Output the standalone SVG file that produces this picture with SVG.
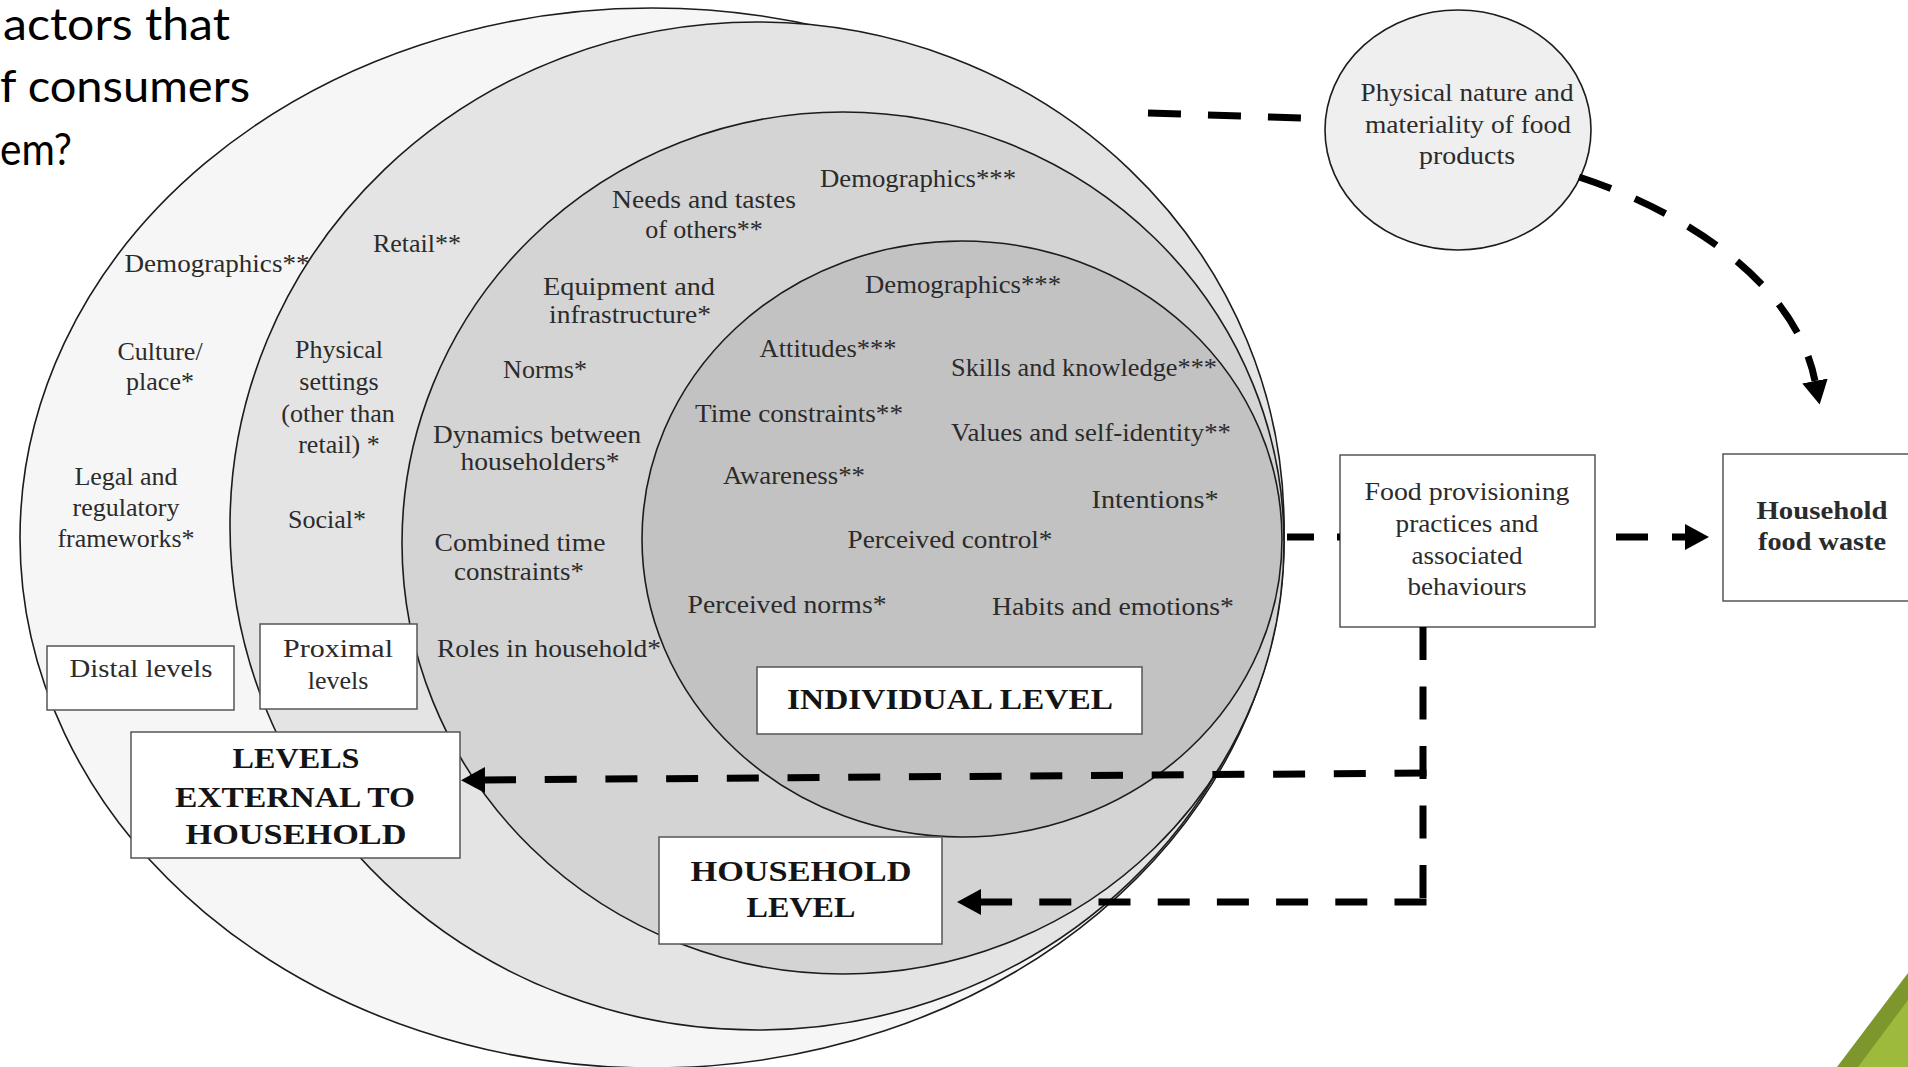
<svg xmlns="http://www.w3.org/2000/svg" width="1908" height="1067" viewBox="0 0 1908 1067">
  <defs>
    <style>
      .ring { stroke: #1c1c1c; stroke-width: 1.6; }
      .lbl { font-family: "Liberation Serif", "Times New Roman", serif; font-size: 26px; fill: #2b2b2b; text-anchor: middle; }
      .cap { font-family: "Liberation Serif", "Times New Roman", serif; font-size: 29px; font-weight: bold; fill: #141414; text-anchor: middle; }
      .box { fill: #ffffff; stroke: #555555; stroke-width: 1.5; }
      .dash { fill: none; stroke: #000000; stroke-width: 7; }
      .title { font-family: Lato, "Open Sans", sans-serif; font-size: 45px; fill: #000000; }
    </style>
    <marker id="ah" viewBox="0 0 10 10" preserveAspectRatio="none" refX="0" refY="5" markerWidth="24" markerHeight="26" markerUnits="userSpaceOnUse" orient="auto">
      <path d="M0,0 L10,5 L0,10 z" fill="#000000"/>
    </marker>
  </defs>

  <rect x="0" y="0" width="1908" height="1067" fill="#ffffff"/>

  <g id="title">
    <text class="title" x="3" y="40" textLength="227" lengthAdjust="spacingAndGlyphs">actors that</text>
    <text class="title" x="0" y="102" textLength="250" lengthAdjust="spacingAndGlyphs">f consumers</text>
    <text class="title" x="0" y="165" textLength="72" lengthAdjust="spacingAndGlyphs">em?</text>
  </g>

  <g id="ring-distal">
    <ellipse class="ring" cx="652" cy="538" rx="632" ry="530" fill="#f6f6f6"/>
    <text class="lbl" x="217" y="272" textLength="185" lengthAdjust="spacingAndGlyphs">Demographics**</text>
    <text class="lbl" x="160" y="360">Culture/</text>
    <text class="lbl" x="160" y="390">place*</text>
    <text class="lbl" x="126" y="485">Legal and</text>
    <text class="lbl" x="126" y="516">regulatory</text>
    <text class="lbl" x="126" y="547">frameworks*</text>
  </g>

  <g id="ring-proximal">
    <ellipse class="ring" cx="757" cy="526" rx="527" ry="504" fill="#e4e4e4"/>
    <text class="lbl" x="417" y="252">Retail**</text>
    <text class="lbl" x="339" y="358">Physical</text>
    <text class="lbl" x="339" y="390">settings</text>
    <text class="lbl" x="338" y="422">(other than</text>
    <text class="lbl" x="339" y="453">retail) *</text>
    <text class="lbl" x="327" y="528">Social*</text>
  </g>

  <g id="ring-household">
    <ellipse class="ring" cx="843" cy="543" rx="441" ry="431" fill="#d4d4d4"/>
    <text class="lbl" x="918" y="187" textLength="196" lengthAdjust="spacingAndGlyphs">Demographics***</text>
    <text class="lbl" x="704" y="208" textLength="184" lengthAdjust="spacingAndGlyphs">Needs and tastes</text>
    <text class="lbl" x="704" y="238">of others**</text>
    <text class="lbl" x="629" y="295" textLength="172" lengthAdjust="spacingAndGlyphs">Equipment and</text>
    <text class="lbl" x="630" y="323" textLength="162" lengthAdjust="spacingAndGlyphs">infrastructure*</text>
    <text class="lbl" x="545" y="378">Norms*</text>
    <text class="lbl" x="537" y="443" textLength="208" lengthAdjust="spacingAndGlyphs">Dynamics between</text>
    <text class="lbl" x="540" y="470" textLength="159" lengthAdjust="spacingAndGlyphs">householders*</text>
    <text class="lbl" x="520" y="551" textLength="171" lengthAdjust="spacingAndGlyphs">Combined time</text>
    <text class="lbl" x="519" y="580" textLength="130" lengthAdjust="spacingAndGlyphs">constraints*</text>
    <text class="lbl" x="549" y="657" textLength="224" lengthAdjust="spacingAndGlyphs">Roles in household*</text>
  </g>

  <g id="ring-individual">
    <ellipse class="ring" cx="962" cy="539" rx="320" ry="298" fill="#c2c2c2"/>
    <text class="lbl" x="963" y="293" textLength="196" lengthAdjust="spacingAndGlyphs">Demographics***</text>
    <text class="lbl" x="828" y="357" textLength="137" lengthAdjust="spacingAndGlyphs">Attitudes***</text>
    <text class="lbl" x="1084" y="376" textLength="266" lengthAdjust="spacingAndGlyphs">Skills and knowledge***</text>
    <text class="lbl" x="799" y="422" textLength="208" lengthAdjust="spacingAndGlyphs">Time constraints**</text>
    <text class="lbl" x="1091" y="441" textLength="280" lengthAdjust="spacingAndGlyphs">Values and self-identity**</text>
    <text class="lbl" x="794" y="484" textLength="142" lengthAdjust="spacingAndGlyphs">Awareness**</text>
    <text class="lbl" x="1155" y="508" textLength="127" lengthAdjust="spacingAndGlyphs">Intentions*</text>
    <text class="lbl" x="950" y="548" textLength="205" lengthAdjust="spacingAndGlyphs">Perceived control*</text>
    <text class="lbl" x="787" y="613" textLength="199" lengthAdjust="spacingAndGlyphs">Perceived norms*</text>
    <text class="lbl" x="1113" y="615" textLength="242" lengthAdjust="spacingAndGlyphs">Habits and emotions*</text>
  </g>

  <g id="node-physical-nature">
    <ellipse cx="1458" cy="130" rx="133" ry="120" fill="#efefef" stroke="#1c1c1c" stroke-width="1.6"/>
    <text class="lbl" x="1467" y="101" textLength="213" lengthAdjust="spacingAndGlyphs">Physical nature and</text>
    <text class="lbl" x="1468" y="133" textLength="206" lengthAdjust="spacingAndGlyphs">materiality of food</text>
    <text class="lbl" x="1467" y="164" textLength="96" lengthAdjust="spacingAndGlyphs">products</text>
  </g>

  <g id="node-distal-levels">
    <rect class="box" x="47" y="646" width="187" height="64"/>
    <text class="lbl" x="141" y="677" textLength="143" lengthAdjust="spacingAndGlyphs">Distal levels</text>
  </g>

  <g id="node-proximal-levels">
    <rect class="box" x="260" y="624" width="157" height="85"/>
    <text class="lbl" x="338" y="657" textLength="110" lengthAdjust="spacingAndGlyphs">Proximal</text>
    <text class="lbl" x="338" y="689">levels</text>
  </g>

  <g id="node-levels-external">
    <rect class="box" x="131" y="732" width="329" height="126"/>
    <text class="cap" x="296" y="768" textLength="127" lengthAdjust="spacingAndGlyphs">LEVELS</text>
    <text class="cap" x="295" y="807" textLength="240" lengthAdjust="spacingAndGlyphs">EXTERNAL TO</text>
    <text class="cap" x="296" y="844" textLength="221" lengthAdjust="spacingAndGlyphs">HOUSEHOLD</text>
  </g>

  <g id="node-individual-level">
    <rect class="box" x="757" y="667" width="385" height="67"/>
    <text class="cap" x="950" y="709" textLength="326" lengthAdjust="spacingAndGlyphs">INDIVIDUAL LEVEL</text>
  </g>

  <g id="node-household-level">
    <rect class="box" x="659" y="837" width="283" height="107"/>
    <text class="cap" x="801" y="881" textLength="221" lengthAdjust="spacingAndGlyphs">HOUSEHOLD</text>
    <text class="cap" x="801" y="917" textLength="109" lengthAdjust="spacingAndGlyphs">LEVEL</text>
  </g>

  <g id="node-food-provisioning">
    <rect class="box" x="1340" y="455" width="255" height="172"/>
    <text class="lbl" x="1467" y="500" textLength="205" lengthAdjust="spacingAndGlyphs">Food provisioning</text>
    <text class="lbl" x="1467" y="532" textLength="143" lengthAdjust="spacingAndGlyphs">practices and</text>
    <text class="lbl" x="1467" y="564" textLength="111" lengthAdjust="spacingAndGlyphs">associated</text>
    <text class="lbl" x="1467" y="595" textLength="119" lengthAdjust="spacingAndGlyphs">behaviours</text>
  </g>

  <g id="node-household-food-waste">
    <rect class="box" x="1723" y="454" width="200" height="147"/>
    <text class="lbl" x="1822" y="519" font-weight="bold" textLength="131" lengthAdjust="spacingAndGlyphs">Household</text>
    <text class="lbl" x="1822" y="550" font-weight="bold" textLength="128" lengthAdjust="spacingAndGlyphs">food waste</text>
  </g>

  <g id="connectors">
    <path class="dash" d="M1148,113 L1301,118" stroke-dasharray="33 27"/>
    <path class="dash" d="M1579,177 C1680,210 1795,280 1815,381" stroke-dasharray="34 26" marker-end="url(#ah)"/>
    <path class="dash" d="M1287,537 L1340,537" stroke-dasharray="27 23"/>
    <path class="dash" d="M1616,537 L1685,537" stroke-dasharray="32 24" marker-end="url(#ah)"/>
    <path class="dash" d="M1423,627 L1423,902" stroke-dasharray="33 26.5"/>
    <path class="dash" d="M1426.5,773 L485,780" stroke-dasharray="32 28.7" marker-end="url(#ah)"/>
    <path class="dash" d="M1426.5,902 L981,902" stroke-dasharray="32 27.2" marker-end="url(#ah)"/>
  </g>

  <g id="corner-decoration">
    <polygon points="1908,973 1837,1067 1908,1067" fill="#7e972d"/>
    <polygon points="1908,1000 1858,1067 1908,1067" fill="#9cba3c"/>
  </g>
</svg>
